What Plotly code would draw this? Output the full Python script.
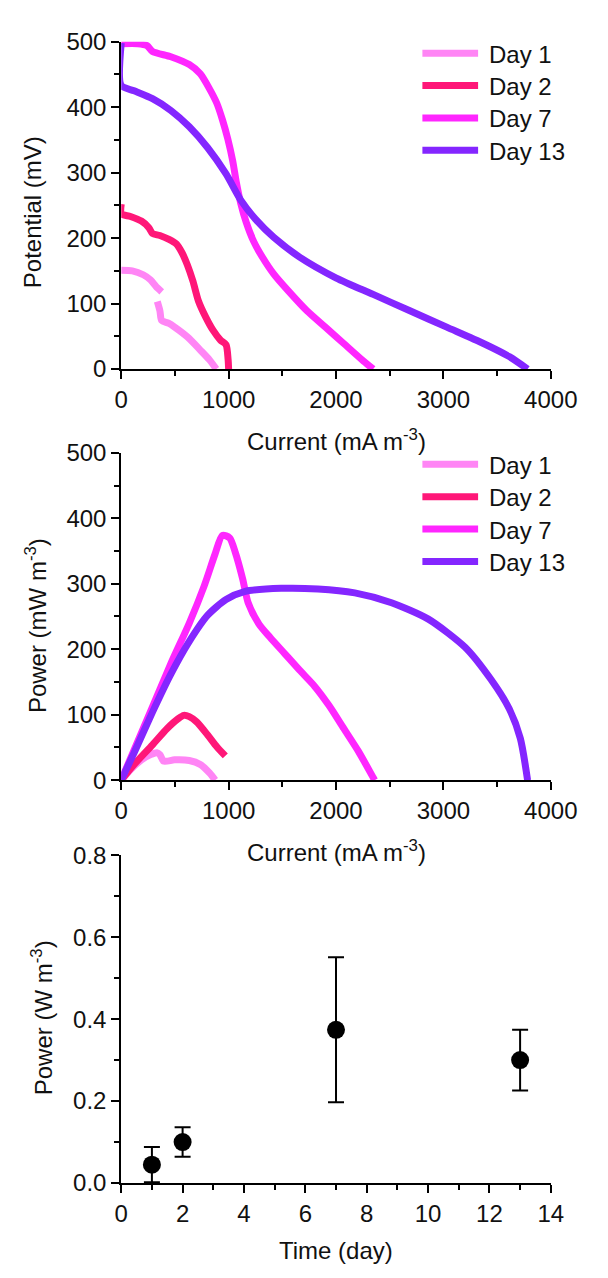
import plotly.graph_objects as go

W, H = 608, 1278

# ---- Polarization curves: current (mA m^-3) vs potential (mV) ----
day_names = ["Day 1", "Day 2", "Day 7", "Day 13"]
day_colors = ["#FF85F5", "#FF1778", "#FF26FF", "#8426FF"]

pol_i_d1 = [0, 103, 205, 274, 325, 377, None, 336, 360, 377, 440, 497, 616, 736, 822, 885]
pol_v_d1 = [151, 150, 144, 136, 126, 118, None, 103, 89, 74, 70, 64, 49, 29, 14, 0]

pol_i_d2 = [0, 0, 86, 188, 257, 291, 360, 445, 514, 565, 616, 668, 719, 788, 856, 925, 976, 995, 1000]
pol_v_d2 = [252, 237, 233, 226, 216, 207, 204, 198, 191, 178, 159, 134, 104, 79, 59, 44, 37, 15, 0]

pol_i_d7 = [0, 154, 240, 291, 462, 634, 736, 822, 890, 942, 993, 1038, 1072, 1113, 1164, 1233,
            1318, 1421, 1558, 1729, 1901, 2072, 2243, 2346]
pol_v_d7 = [497, 497, 494, 485, 477, 465, 451, 428, 406, 381, 351, 318, 285, 253, 224, 195,
            170, 145, 119, 89, 64, 39, 14, 0]

pol_i_d13 = [0, 0, 120, 291, 462, 634, 805, 976, 1113, 1250, 1421, 1661, 2003, 2346, 2688,
             3031, 3373, 3613, 3784]
pol_v_d13 = [498, 433, 425, 413, 395, 370, 338, 298, 258, 229, 201, 171, 139, 114, 89,
             64, 39, 19, 0]

# ---- Power curves: current (mA m^-3) vs power (mW m^-3) ----
pow_i_d1 = [0, 86, 188, 274, 332, 360, 394, 497, 634, 736, 822, 875]
pow_p_d1 = [0, 16, 31, 39, 42, 39, 29, 31, 30, 24, 11, 0]

pow_i_d2 = [0, 120, 291, 428, 531, 582, 634, 702, 805, 890, 969]
pow_p_d2 = [0, 24, 54, 79, 94, 99, 97, 89, 69, 51, 37]

pow_i_d7 = [0, 291, 462, 634, 771, 873, 942, 1010, 1062, 1130, 1182, 1284, 1387, 1524,
            1661, 1798, 1935, 2072, 2209, 2346, 2360]
pow_p_d7 = [0, 112, 178, 240, 296, 345, 374, 370, 348, 308, 271, 238, 218, 193,
            168, 144, 114, 79, 44, 4, 0]

pow_i_d13 = [0, 120, 291, 462, 634, 805, 976, 1147, 1490, 1832, 2175, 2517, 2860, 3202,
             3442, 3613, 3716, 3784]
pow_p_d13 = [0, 42, 104, 162, 212, 252, 276, 288, 293, 292, 286, 271, 246, 203,
             154, 109, 64, 0]

# ---- Maximum power density over time ----
time_days = [1, 2, 7, 13]
max_power = [0.045, 0.100, 0.374, 0.300]
max_power_err = [0.043, 0.036, 0.177, 0.074]

pol_i = [pol_i_d1, pol_i_d2, pol_i_d7, pol_i_d13]
pol_v = [pol_v_d1, pol_v_d2, pol_v_d7, pol_v_d13]
pow_i = [pow_i_d1, pow_i_d2, pow_i_d7, pow_i_d13]
pow_p = [pow_p_d1, pow_p_d2, pow_p_d7, pow_p_d13]

FONT = "Liberation Sans, Arial, sans-serif"
FS = 24
LW = 7


def px(x):
    return x / W


def py(y):
    return 1 - y / H


fig = go.Figure()

for name, color, xs, ys in zip(day_names, day_colors, pol_i, pol_v):
    fig.add_trace(go.Scatter(x=xs, y=ys, mode="lines", name=name, showlegend=False,
                             connectgaps=False,
                             line=dict(color=color, width=LW, shape="spline", smoothing=0.7),
                             xaxis="x", yaxis="y"))

for name, color, xs, ys in zip(day_names, day_colors, pow_i, pow_p):
    fig.add_trace(go.Scatter(x=xs, y=ys, mode="lines", name=name, showlegend=False,
                             line=dict(color=color, width=LW, shape="spline", smoothing=0.7),
                             xaxis="x2", yaxis="y2"))

fig.add_trace(go.Scatter(x=time_days, y=max_power, mode="markers", showlegend=False,
                         marker=dict(color="black", size=18),
                         error_y=dict(type="data", array=max_power_err, visible=True,
                                      color="black", thickness=2, width=8),
                         xaxis="x3", yaxis="y3", cliponaxis=False))

x_dom = [px(121), px(576)]
minor_style = dict(ticks="outside", ticklen=5, tickwidth=2, tickcolor="black")
axis_common = dict(
    showline=True, linecolor="black", linewidth=2,
    ticks="outside", ticklen=8, tickwidth=2, tickcolor="black",
    showgrid=False, zeroline=False,
    tickfont=dict(family=FONT, size=FS, color="#111"),
)

fig.update_layout(
    width=W, height=H,
    margin=dict(l=0, r=0, t=0, b=0),
    paper_bgcolor="white", plot_bgcolor="white",
    font=dict(family=FONT, size=FS, color="#111"),
    xaxis=dict(domain=x_dom, anchor="y", range=[0, 4000], dtick=1000,
               minor=dict(dtick=500, **minor_style), **axis_common),
    yaxis=dict(domain=[py(362.7), py(28.3)], anchor="x", range=[0, 500], dtick=100,
               minor=dict(dtick=50, **minor_style), **axis_common),
    xaxis2=dict(domain=x_dom, anchor="y2", range=[0, 4000], dtick=1000,
                minor=dict(dtick=500, **minor_style), **axis_common),
    yaxis2=dict(domain=[py(782.7), py(448.3)], anchor="x2", range=[0, 500], dtick=100,
                minor=dict(dtick=50, **minor_style), **axis_common),
    xaxis3=dict(domain=x_dom, anchor="y3", range=[0, 14], dtick=2,
                minor=dict(dtick=1, **minor_style), **axis_common),
    yaxis3=dict(domain=[py(1194.3), py(859.3)], anchor="x3", range=[0, 0.8], dtick=0.2,
                tickformat=".1f", minor=dict(dtick=0.1, **minor_style), **axis_common),
)

# Axis titles
titles = [
    ("Current (mA m<sup>-3</sup>)", 349, 435, 0),
    ("Current (mA m<sup>-3</sup>)", 349, 855, 0),
    ("Time (day)", 349, 1263, 0),
    ("Potential (mV)", 27, 202, -90),
    ("Power (mW m<sup>-3</sup>)", 30, 625, -90),
    ("Power (W m<sup>-3</sup>)", 37, 1025, -90),
]
for text, x, y, ang in titles:
    fig.add_annotation(text=text, x=px(x), y=py(y), xref="paper", yref="paper",
                       xanchor="center", yanchor="middle", showarrow=False,
                       textangle=ang, font=dict(family=FONT, size=FS, color="#111"))

# Legends for the two curve panels
for top in (40, 460):
    for k, (name, color) in enumerate(zip(day_names, day_colors)):
        yy = top + k * 33.1
        fig.add_shape(type="line", xref="paper", yref="paper",
                      x0=px(440), x1=px(499), y0=py(yy), y1=py(yy),
                      line=dict(color=color, width=LW))
        fig.add_annotation(text=name, x=px(508), y=py(yy + 1), xref="paper", yref="paper",
                           xanchor="left", yanchor="middle", showarrow=False,
                           font=dict(family=FONT, size=FS, color="#111"))

fig.write_html("out.html")
